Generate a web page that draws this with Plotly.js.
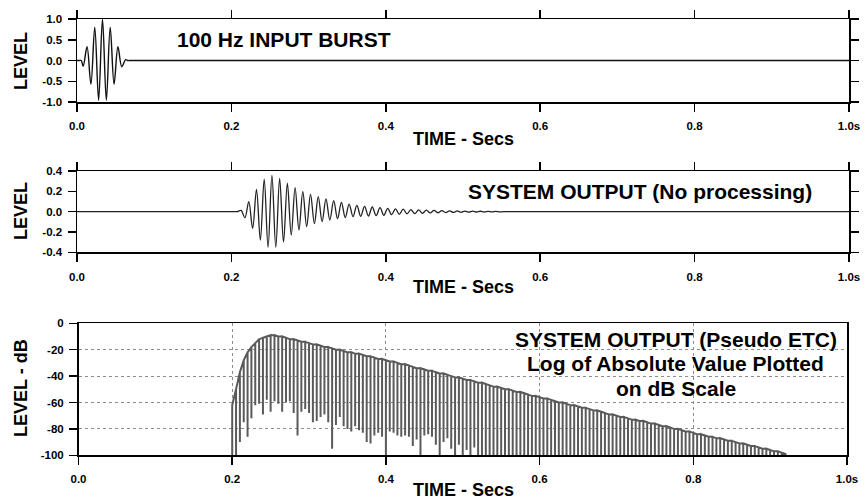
<!DOCTYPE html>
<html><head><meta charset="utf-8">
<script src="https://cdn.plot.ly/plotly-3.0.1.min.js"></script>
<style>html,body{margin:0;padding:0;background:#fff}#chart{width:864px;height:500px}</style>
</head><body><div id="chart"></div>
<script>
// ---------- tick labels ----------
const timeTickVals = [0, 0.2, 0.4, 0.6, 0.8, 1.0];
const timeTickText = ["0.0", "0.2", "0.4", "0.6", "0.8", "1.0s"];
const inputTickVals = [-1, -0.5, 0, 0.5, 1];
const inputTickText = ["-1.0", "-0.5", "0.0", "0.5", "1.0"];
const outputTickVals = [-0.4, -0.2, 0, 0.2, 0.4];
const outputTickText = ["-0.4", "-0.2", "0.0", "0.2", "0.4"];
const dbTickVals = [-100, -80, -60, -40, -20, 0];
const dbTickText = ["-100", "-80", "-60", "-40", "-20", "0"];

// ---------- panel 1: 100 Hz input burst (zero points + half-cycle extrema) ----------
const burstTime  = [0, 0.003, 0.0055, 0.008, 0.013, 0.018, 0.023, 0.028, 0.033, 0.038, 0.043, 0.048, 0.053, 0.058, 0.063, 0.0655, 0.07, 1.0];
const burstLevel = [0, 0, 0, -0.14, 0.33, -0.57, 0.80, -0.96, 1.0, -0.96, 0.80, -0.57, 0.33, -0.15, 0.02, 0, 0, 0];

// ---------- panel 2: system output (half-cycle extrema) ----------
const outputTime = [0, 0.205, 0.2075,
  0.2125, 0.2175, 0.2225, 0.2275, 0.2325, 0.2375, 0.2425, 0.2475, 0.2525, 0.2575,
  0.2625, 0.2675, 0.2725, 0.2775, 0.2825, 0.2875, 0.2925, 0.2975, 0.3025, 0.3075,
  0.3125, 0.3175, 0.3225, 0.3275, 0.3325, 0.3375, 0.3425, 0.3475, 0.3525, 0.3575,
  0.3625, 0.3675, 0.3725, 0.3775, 0.3825, 0.3875, 0.3925, 0.3975, 0.4025, 0.4075,
  0.4125, 0.4175, 0.4225, 0.4275, 0.4325, 0.4375, 0.4425, 0.4475, 0.4525, 0.4575,
  0.4625, 0.4675, 0.4725, 0.4775, 0.4825, 0.4875, 0.4925, 0.4975, 0.5025, 0.5075,
  0.5125, 0.5175, 0.5225, 0.5275, 0.5325, 0.5375, 0.5425, 0.5475,
  0.5525, 0.557, 1.0];
const outputLevel = [0, 0, 0,
  0.012, -0.060, 0.098, -0.164, 0.220, -0.280, 0.320, -0.350, 0.357, -0.350,
  0.328, -0.300, 0.280, -0.230, 0.236, -0.180, 0.197, -0.148, 0.170, -0.118,
  0.148, -0.098, 0.125, -0.082, 0.108, -0.069, 0.092, -0.059, 0.075, -0.049,
  0.062, -0.046, 0.052, -0.043, 0.046, -0.039, 0.039, -0.036, 0.033, -0.030,
  0.028, -0.026, 0.024, -0.022, 0.020, -0.019, 0.017, -0.016, 0.015, -0.013,
  0.012, -0.011, 0.010, -0.009, 0.0085, -0.008, 0.007, -0.0065, 0.006, -0.0055,
  0.005, -0.0045, 0.004, -0.0037, 0.0033, -0.003, 0.0027, -0.0025,
  0, 0, 0];

// ---------- panel 3: pseudo ETC in dB (per zero crossing: envelope level and dip depth) ----------
const etcZeroTime = [
  0.200, 0.205, 0.210, 0.215, 0.220, 0.225, 0.230, 0.235, 0.240, 0.245,
  0.250, 0.255, 0.260, 0.265, 0.270, 0.275, 0.280, 0.285, 0.290, 0.295,
  0.300, 0.305, 0.310, 0.315, 0.320, 0.325, 0.330, 0.335, 0.340, 0.345,
  0.350, 0.355, 0.360, 0.365, 0.370, 0.375, 0.380, 0.385, 0.390, 0.395,
  0.400, 0.405, 0.410, 0.415, 0.420, 0.425, 0.430, 0.435, 0.440, 0.445,
  0.450, 0.455, 0.460, 0.465, 0.470, 0.475, 0.480, 0.485, 0.490, 0.495,
  0.500, 0.505, 0.510, 0.515, 0.520, 0.525, 0.530, 0.535, 0.540, 0.545,
  0.550, 0.555, 0.560, 0.565, 0.570, 0.575, 0.580, 0.585, 0.590, 0.595,
  0.600, 0.605, 0.610, 0.615, 0.620, 0.625, 0.630, 0.635, 0.640, 0.645,
  0.650, 0.655, 0.660, 0.665, 0.670, 0.675, 0.680, 0.685, 0.690, 0.695,
  0.700, 0.705, 0.710, 0.715, 0.720, 0.725, 0.730, 0.735, 0.740, 0.745,
  0.750, 0.755, 0.760, 0.765, 0.770, 0.775, 0.780, 0.785, 0.790, 0.795,
  0.800, 0.805, 0.810, 0.815, 0.820, 0.825, 0.830, 0.835, 0.840, 0.845,
  0.850, 0.855, 0.860, 0.865, 0.870, 0.875, 0.880, 0.885, 0.890, 0.895,
  0.900, 0.905, 0.910, 0.915, 0.920];
const etcTopDb = [
  -62, -50, -37, -28, -22, -18, -15, -12, -11, -10,
  -9, -9, -10, -10, -11, -12, -12, -13, -14, -14,
  -15, -16, -16, -17, -18, -18, -19, -20, -20, -21,
  -22, -22, -23, -23, -24, -25, -25, -26, -27, -27,
  -28, -29, -29, -30, -31, -31, -32, -33, -34, -34,
  -35, -36, -36, -37, -38, -38, -39, -40, -41, -41,
  -42, -43, -43, -44, -45, -45, -46, -47, -48, -48,
  -49, -50, -50, -51, -52, -52, -53, -54, -55, -55,
  -56, -57, -57, -58, -59, -60, -60, -61, -62, -62,
  -63, -64, -64, -65, -66, -66, -67, -68, -69, -69,
  -70, -71, -71, -72, -73, -73, -74, -74, -75, -76,
  -76, -77, -78, -78, -79, -80, -80, -81, -82, -82,
  -83, -84, -84, -85, -86, -86, -87, -87, -88, -89,
  -89, -90, -91, -91, -92, -93, -93, -94, -95, -95,
  -96, -97, -97, -98, -99];
const etcDipDb = [
  -100, -100, -90, -75, -86, -72, -62, -61, -69, -58,
  -67, -59, -61, -67, -60, -59, -68, -85, -67, -65,
  -68, -75, -74, -71, -69, -75, -95, -77, -71, -78,
  -80, -82, -78, -81, -83, -90, -91, -85, -83, -86,
  -100, -82, -83, -85, -86, -85, -86, -93, -88, -100,
  -85, -84, -86, -92, -100, -90, -87, -95, -100, -92,
  -100, -96, -100, -94, -100, -100, -100, -100, -100, -100,
  -100, -100, -100, -100, -100, -100, -100, -100, -100, -100,
  -100, -100, -100, -100, -100, -100, -100, -100, -100, -100,
  -100, -100, -100, -100, -100, -100, -100, -100, -100, -100,
  -100, -100, -100, -100, -100, -100, -100, -100, -100, -100,
  -100, -100, -100, -100, -100, -100, -100, -100, -100, -100,
  -100, -100, -100, -100, -100, -100, -100, -100, -100, -100,
  -100, -100, -100, -100, -100, -100, -100, -100, -100, -100,
  -100, -100, -100, -100, -100];

// build the spike path for the dB trace
const etcX = [], etcY = [];
etcZeroTime.forEach((t, i) => {
  etcX.push(t, t, t);
  etcY.push(etcTopDb[i], etcDipDb[i], etcTopDb[i]);
});

const FONT = "Arial, 'Liberation Sans', Helvetica, sans-serif";
const W = 864, H = 500;
const px = v => v / W, py = v => 1 - v / H;

const tickFont = {family: FONT, size: 11.5, color: '#000', weight: 'bold'};
function baseAxis(extra) {
  return Object.assign({
    ticks: 'outside', ticklen: 8, tickwidth: 1.5, tickcolor: '#000',
    showline: true, linewidth: 1.5, linecolor: '#000',
    showgrid: false, zeroline: false, tickmode: 'array',
    tickfont: tickFont, fixedrange: true
  }, extra);
}

const traces = [
  {x: burstTime, y: burstLevel, xaxis: 'x', yaxis: 'y', mode: 'lines', hoverinfo: 'skip',
   line: {shape: 'spline', smoothing: 1, color: '#111', width: 1.4, simplify: false}},
  {x: outputTime, y: outputLevel, xaxis: 'x2', yaxis: 'y2', mode: 'lines', hoverinfo: 'skip',
   line: {shape: 'spline', smoothing: 1, color: '#222', width: 1.3, simplify: false}},
  {x: etcX, y: etcY, xaxis: 'x3', yaxis: 'y3', mode: 'lines', hoverinfo: 'skip',
   line: {color: '#5a5a5a', width: 2, simplify: false}}
];

const bigFont = {family: FONT, size: 21, color: '#000', weight: 'bold'};
const titleFont = {family: FONT, size: 18, color: '#000', weight: 'bold'};
function ann(text, x, y, font, opts) {
  return Object.assign({text, x: px(x), y: py(y), xref: 'paper', yref: 'paper',
    showarrow: false, font, xanchor: 'center', yanchor: 'middle'}, opts || {});
}

const layout = {
  width: W, height: H, autosize: false,
  margin: {l: 0, r: 0, t: 0, b: 0, pad: 0},
  paper_bgcolor: '#fff', plot_bgcolor: '#fff', showlegend: false,
  xaxis: baseAxis({domain: [px(77), px(849)], anchor: 'y', range: [0, 1],
    tickvals: timeTickVals, ticktext: timeTickText, mirror: 'ticks', ticklabelstandoff: 5}),
  yaxis: baseAxis({domain: [py(102), py(19)], anchor: 'x', range: [-1, 1],
    tickvals: inputTickVals, ticktext: inputTickText, mirror: 'ticks', ticklabelstandoff: 3}),
  xaxis2: baseAxis({domain: [px(77), px(849)], anchor: 'y2', range: [0, 1],
    tickvals: timeTickVals, ticktext: timeTickText, mirror: 'ticks', ticklabelstandoff: 5}),
  yaxis2: baseAxis({domain: [py(252.3), py(171)], anchor: 'x2', range: [-0.4, 0.4],
    tickvals: outputTickVals, ticktext: outputTickText, mirror: 'ticks', ticklabelstandoff: 3}),
  xaxis3: baseAxis({domain: [px(78.5), px(847)], anchor: 'y3', range: [0, 1],
    tickvals: timeTickVals, ticktext: timeTickText, mirror: true, ticklabelstandoff: 4,
    showgrid: true, gridcolor: '#8c8c8c', gridwidth: 1, griddash: 'dot'}),
  yaxis3: baseAxis({domain: [py(455.3), py(323.3)], anchor: 'x3', range: [-100, 0],
    tickvals: dbTickVals, ticktext: dbTickText, mirror: true, ticklabelstandoff: 3,
    showgrid: true, gridcolor: '#8c8c8c', gridwidth: 1, griddash: 'dot'}),
  annotations: [
    ann('100 Hz INPUT BURST', 175, 40, bigFont, {xanchor: 'left'}),
    ann('SYSTEM OUTPUT (No processing)', 814, 191.5, bigFont, {xanchor: 'right'}),
    ann('SYSTEM OUTPUT (Pseudo ETC)', 675.5, 339.5, bigFont),
    ann('Log of Absolute Value Plotted', 675.5, 363.5, bigFont),
    ann('on dB Scale', 675.5, 388.5, bigFont),
    ann('TIME - Secs', 463, 138.5, titleFont),
    ann('TIME - Secs', 463, 287, titleFont),
    ann('TIME - Secs', 463, 490, titleFont),
    ann('LEVEL', 21, 61, titleFont, {textangle: -90}),
    ann('LEVEL', 21, 211, titleFont, {textangle: -90}),
    ann('LEVEL - dB', 21, 388, titleFont, {textangle: -90})
  ]
};

Plotly.newPlot('chart', traces, layout, {staticPlot: true, displayModeBar: false});
</script>
</body></html>
